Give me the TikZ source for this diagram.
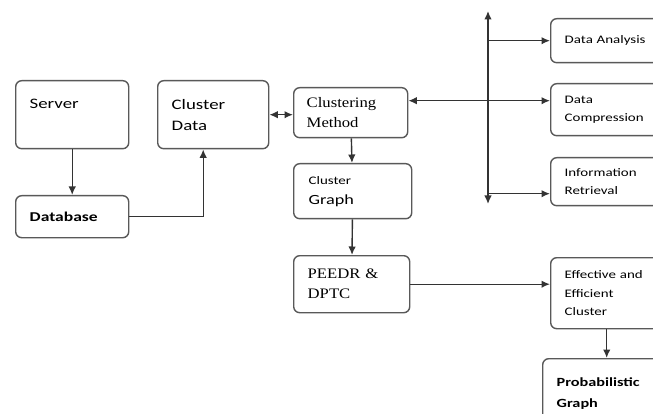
\documentclass[tikz,border=0pt]{standalone}
\usepackage{fontspec}
\setmainfont{Carlito}
\newfontfamily\widesans[FakeStretch=1.3]{Carlito}
\newfontfamily\wideserif[FakeStretch=1.15]{Liberation Serif}
\usetikzlibrary{arrows.meta}

\begin{document}
\begin{tikzpicture}[
  x=1pt, y=-1pt,
  >={Latex[length=8.5pt,width=7.5pt]},
  % Global box styling
  every node/.style={draw=black!65, line width=1.4pt, rounded corners=6pt, anchor=north west, align=left, inner xsep=14pt, font=\widesans\fontsize{14.5}{21}\selectfont},
  % Specific styles
  sbold/.style={font=\widesans\fontsize{13.5}{21}\selectfont\bfseries},
  roman/.style={font=\wideserif\fontsize{14.5}{20}\selectfont},
  side/.style={font=\widesans\fontsize{11.5}{18.5}\selectfont},
  sidebold/.style={font=\widesans\fontsize{12.5}{21}\selectfont\bfseries},
  link/.style={draw=black!80, line width=1.4pt}
]
\clip (0,0) rectangle (653,414);

% left column
\node[text width=85, minimum height=68] (server) at (15,80) {Server\\ \mbox{}};
\node[sbold, text width=85, minimum height=42] (database) at (15,195) {Database};
\node[text width=83, minimum height=68] (cdata) at (157,80) {Cluster\\Data};

% middle column
\node[roman, text width=88, inner xsep=13pt, minimum height=50] (method) at (293,87) {Clustering\\Method};
\node[text width=88, inner xsep=15pt, minimum height=55] (cgraph) at (293,163)
  {{\fontsize{11.5}{11}\selectfont Cluster}\\[-1pt]{\fontsize{14}{16}\selectfont Graph}};
\node[roman, text width=88, inner xsep=14pt, minimum height=57] (peedr) at (293,255) {PEEDR \&\\DPTC};

% right column
\node[side, text width=95, minimum height=44] (analysis) at (550,18) {Data Analysis};
\node[side, text width=95, minimum height=52] (compress) at (550,83) {Data\\Compression};
\node[side, text width=95, minimum height=48] (retrieval) at (550,157) {Information\\Retrieval};
\node[side, text width=95, minimum height=71] (effective) at (550,257) {Effective and\\Efficient\\Cluster};
\node[sidebold, text width=100, minimum height=70] (prob) at (542,358) {Probabilistic\\Graph};

% vertical bus
\coordinate (bustop) at (488,11);
\coordinate (busbot) at (488,204);
\draw[link, <->] (bustop) -- (busbot);

% connectors
\draw[link, ->] (server) -- (database);
\draw[link, ->] (database.east) -| ([xshift=-10pt]cdata.south);
\draw[link, <->] (cdata.east) -- (cdata.east -| method.west);
\draw[link, <->] ([yshift=12pt]method.east) -- ([yshift=12pt]method.east -| compress.west);
\draw[link, ->] (analysis.west -| bustop) -- (analysis.west);
\draw[link, ->] ([yshift=-12pt]retrieval.west -| bustop) -- ([yshift=-12pt]retrieval.west);
\draw[link, ->] (method) -- (cgraph);
\draw[link, ->] (cgraph) -- (peedr);
\draw[link, ->] (peedr.east) -- (peedr.east -| effective.west);
\draw[link, ->] (prob.north |- effective.south) -- (prob.north);

\end{tikzpicture}
\end{document}
